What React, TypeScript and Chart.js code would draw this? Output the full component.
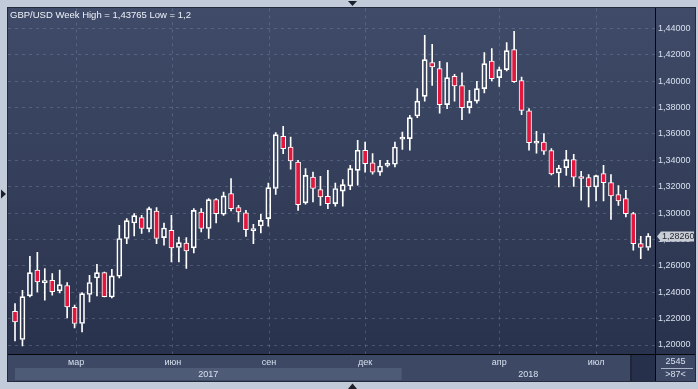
import React, { useEffect, useRef } from 'react';
import { Chart, registerables } from 'chart.js';

Chart.register(...registerables);

// Weekly GBP/USD candles
const opens = [
  1.2256, 1.2042, 1.2372, 1.2567, 1.2473, 1.2491, 1.2410, 1.2451, 1.2286, 1.2163,
  1.2383, 1.2508, 1.2549, 1.2364, 1.2521, 1.2807, 1.2925, 1.2966, 1.2880, 1.3016,
  1.2814, 1.2870, 1.2739, 1.2773, 1.2736, 1.3008, 1.2883, 1.3102, 1.2991, 1.3148,
  1.3042, 1.3001, 1.2867, 1.2902, 1.2958, 1.3186, 1.3582, 1.3501, 1.3387, 1.3077,
  1.3273, 1.3178, 1.3127, 1.3072, 1.3167, 1.3205, 1.3324, 1.3476, 1.3380, 1.3311,
  1.3362, 1.3370, 1.3560, 1.3564, 1.3736, 1.3885, 1.4140, 1.4095, 1.3822, 1.4036,
  1.3966, 1.3799, 1.3849, 1.3943, 1.4152, 1.4027, 1.4087, 1.4239, 1.4004, 1.3775,
  1.3530, 1.3539, 1.3473, 1.3304, 1.3345, 1.3405, 1.3270, 1.3269, 1.3198, 1.3299,
  1.3231, 1.3140, 1.3110, 1.2996, 1.2769, 1.2739,
];
const highs = [
  1.2314, 1.2415, 1.2673, 1.2703, 1.2580, 1.2542, 1.2567, 1.2474, 1.2302, 1.2398,
  1.2529, 1.2612, 1.2552, 1.2574, 1.2908, 1.2958, 1.2996, 1.2983, 1.3046, 1.3042,
  1.2925, 1.2983, 1.2819, 1.2814, 1.3034, 1.3034, 1.3110, 1.3110, 1.3160, 1.3261,
  1.3059, 1.3021, 1.2915, 1.2991, 1.3228, 1.3610, 1.3658, 1.3577, 1.3400, 1.3337,
  1.3311, 1.3279, 1.3324, 1.3228, 1.3254, 1.3362, 1.3552, 1.3539, 1.3451, 1.3400,
  1.3400, 1.3539, 1.3614, 1.3741, 1.3943, 1.4347, 1.4279, 1.4150, 1.4140, 1.4052,
  1.4064, 1.3930, 1.3998, 1.4216, 1.4246, 1.4107, 1.4292, 1.4377, 1.4031, 1.3792,
  1.3620, 1.3602, 1.3489, 1.3362, 1.3476, 1.3445, 1.3317, 1.3292, 1.3288, 1.3362,
  1.3292, 1.3208, 1.3173, 1.3006, 1.2824, 1.2845,
];
const lows = [
  1.2031, 1.1993, 1.2365, 1.2402, 1.2339, 1.2377, 1.2395, 1.2205, 1.2130, 1.2099,
  1.2327, 1.2372, 1.2364, 1.2357, 1.2508, 1.2769, 1.2827, 1.2845, 1.2857, 1.2769,
  1.2756, 1.2630, 1.2630, 1.2580, 1.2698, 1.2857, 1.2807, 1.2925, 1.2983, 1.3016,
  1.2933, 1.2824, 1.2769, 1.2849, 1.2900, 1.3142, 1.3451, 1.3332, 1.3021, 1.3067,
  1.3084, 1.3059, 1.3034, 1.3052, 1.3052, 1.3178, 1.3211, 1.3311, 1.3294, 1.3286,
  1.3349, 1.3349, 1.3482, 1.3476, 1.3723, 1.3849, 1.3968, 1.3758, 1.3792, 1.3849,
  1.3708, 1.3758, 1.3834, 1.3910, 1.4001, 1.3961, 1.4077, 1.3990, 1.3746, 1.3476,
  1.3455, 1.3445, 1.3289, 1.3198, 1.3286, 1.3203, 1.3097, 1.3046, 1.3092, 1.3092,
  1.2951, 1.3059, 1.2970, 1.2718, 1.2655, 1.2718,
];
const closes = [
  1.2175, 1.2367, 1.2549, 1.2478, 1.2486, 1.2405, 1.2458, 1.2289, 1.2163, 1.2390,
  1.2474, 1.2549, 1.2367, 1.2524, 1.2807, 1.2943, 1.2981, 1.2883, 1.3034, 1.2807,
  1.2887, 1.2736, 1.2776, 1.2713, 1.3021, 1.2883, 1.3102, 1.2996, 1.3130, 1.3034,
  1.3008, 1.2875, 1.2883, 1.2945, 1.3193, 1.3595, 1.3489, 1.3395, 1.3064, 1.3286,
  1.3186, 1.3122, 1.3072, 1.3186, 1.3216, 1.3337, 1.3476, 1.3375, 1.3311, 1.3357,
  1.3370, 1.3501, 1.3568, 1.3723, 1.3849, 1.4163, 1.4107, 1.3822, 1.4027, 1.3963,
  1.3799, 1.3847, 1.3943, 1.4133, 1.4019, 1.4087, 1.4231, 1.3996, 1.3779, 1.3534,
  1.3540, 1.3470, 1.3296, 1.3342, 1.3405, 1.3273, 1.3262, 1.3198, 1.3284, 1.3231,
  1.3130, 1.3092, 1.2996, 1.2769, 1.2739, 1.2826,
];

const priceTicks = [1.2, 1.22, 1.24, 1.26, 1.28, 1.3, 1.32, 1.34, 1.36, 1.38, 1.4, 1.42, 1.44];
const monthTickPositions = [8.2, 21.2, 34.1, 47.0, 65.0, 78.0];
const monthTickLabels = ['мар', 'июн', 'сен', 'дек', 'апр', 'июл'];
const yearLabels = ['2017', '2018'];
const yearStarts = [0, 51.9];
const titleText = 'GBP/USD Week High = 1,43765 Low = 1,2';
const cornerTop = '2545';
const cornerBottom = '>87<';

const W = 698;
const H = 389;
const FAMILY = '"Liberation Sans", Arial, sans-serif';
const RED = '#e3173e';
const LABEL = '#d6e0ee';

const fmt = (v: number) => v.toFixed(5).replace('.', ',');

export default function App() {
  const ref = useRef<HTMLCanvasElement>(null);

  useEffect(() => {
    const canvas = ref.current;
    if (!canvas) return;
    const idx = opens.map((_, i) => i);
    const bodyData = idx.map((i) => ({ x: i, y: [Math.min(opens[i], closes[i]), Math.max(opens[i], closes[i])] }));
    const upperData = idx.map((i) => ({ x: i, y: [Math.max(opens[i], closes[i]), highs[i]] }));
    const lowerData = idx.map((i) => ({ x: i, y: [lows[i], Math.min(opens[i], closes[i])] }));
    const bodyFill = idx.map((i) => (closes[i] < opens[i] ? RED : 'rgba(0,0,0,0)'));

    const panelR = 695;
    const panelB = 381;

    const framePlugin = {
      id: 'frame',
      beforeDraw(chart: any) {
        const { ctx, chartArea: a, scales } = chart;
        const xs = scales.x;
        ctx.save();
        ctx.fillStyle = '#c1cbd9';
        ctx.fillRect(0, 0, W, H);
        // bottom rows
        ctx.fillStyle = '#3c4864';
        ctx.fillRect(8, a.bottom, panelR - 8, panelB - a.bottom);
        // plot + axis gradient
        const g = ctx.createLinearGradient(0, a.top, 0, a.bottom);
        g.addColorStop(0, '#3f4b68');
        g.addColorStop(1, '#29324c');
        ctx.fillStyle = g;
        ctx.fillRect(8, 8, panelR - 8, a.bottom - 8);
        // year bands
        for (let k = 0; k < yearLabels.length; k++) {
          const x0 = xs.getPixelForValue(yearStarts[k]);
          const x1 = k + 1 < yearStarts.length ? xs.getPixelForValue(yearStarts[k + 1]) : a.right;
          if (k % 2 === 0) {
            ctx.fillStyle = '#4e5b77';
            ctx.fillRect(x0, 368, x1 - x0, 12);
          }
        }
        // dark box right of time axis
        ctx.fillStyle = '#27304a';
        ctx.fillRect(a.right - 23, a.bottom + 1, 23, panelB - a.bottom - 1);
        ctx.fillStyle = '#1f2637';
        ctx.fillRect(a.right - 25, a.bottom + 1, 2, panelB - a.bottom - 1);
        // panel border
        ctx.strokeStyle = '#222a3b';
        ctx.lineWidth = 1;
        ctx.strokeRect(7.5, 7.5, panelR - 7, panelB - 7);
        // frame triangles
        ctx.fillStyle = '#1a1f29';
        ctx.beginPath();
        ctx.moveTo(348, 1); ctx.lineTo(357, 1); ctx.lineTo(352.5, 6); ctx.closePath(); ctx.fill();
        ctx.beginPath();
        ctx.moveTo(348, 389); ctx.lineTo(357, 389); ctx.lineTo(352.5, 383.5); ctx.closePath(); ctx.fill();
        ctx.beginPath();
        ctx.moveTo(1, 189.5); ctx.lineTo(6, 194); ctx.lineTo(1, 198.5); ctx.closePath(); ctx.fill();
        ctx.restore();
      },
      afterDraw(chart: any) {
        const { ctx, chartArea: a, scales } = chart;
        const xs = scales.x;
        const ys = scales.y;
        ctx.save();
        // black separators
        ctx.strokeStyle = '#05070b';
        ctx.lineWidth = 1;
        ctx.beginPath();
        ctx.moveTo(a.right + 0.5, 8);
        ctx.lineTo(a.right + 0.5, panelB);
        ctx.moveTo(8, a.bottom + 0.5);
        ctx.lineTo(panelR, a.bottom + 0.5);
        ctx.stroke();
        // year labels
        ctx.font = `9px ${FAMILY}`;
        ctx.fillStyle = LABEL;
        ctx.textAlign = 'center';
        ctx.textBaseline = 'middle';
        for (let k = 0; k < yearLabels.length; k++) {
          const x0 = xs.getPixelForValue(yearStarts[k]);
          const x1 = k + 1 < yearStarts.length ? xs.getPixelForValue(yearStarts[k + 1]) : a.right;
          ctx.fillText(yearLabels[k], (x0 + x1) / 2, 374.5);
        }
        // corner box
        const cx = (a.right + panelR) / 2 + 0.5;
        ctx.fillText(cornerTop, cx, 362);
        ctx.fillText(cornerBottom, cx, 375);
        ctx.fillStyle = '#aab6c8';
        ctx.fillRect(a.right + 6, 368, 32, 1);
        // title
        ctx.font = `9.5px ${FAMILY}`;
        ctx.fillStyle = '#eef2f8';
        ctx.textAlign = 'left';
        ctx.fillText(titleText, 10, 15);
        // last price marker
        const last = closes[closes.length - 1];
        const py = Math.round(ys.getPixelForValue(last)) + 0.5;
        ctx.fillStyle = '#c9ced6';
        ctx.beginPath();
        ctx.moveTo(a.right + 2, py);
        ctx.lineTo(a.right + 6, py - 5);
        ctx.lineTo(a.right + 39, py - 5);
        ctx.lineTo(a.right + 39, py + 5);
        ctx.lineTo(a.right + 6, py + 5);
        ctx.closePath();
        ctx.fill();
        ctx.fillStyle = '#1d222b';
        ctx.font = `9px ${FAMILY}`;
        ctx.fillText(fmt(last), a.right + 7, py);
        ctx.restore();
      },
    };

    const chart = new Chart(canvas, {
      type: 'bar',
      data: {
        datasets: [
          {
            data: bodyData as any,
            backgroundColor: bodyFill,
            borderColor: '#ffffff',
            borderWidth: 1,
            borderSkipped: false,
            barThickness: 5,
            minBarLength: 2,
            grouped: false,
            order: 0,
          } as any,
          {
            data: upperData as any,
            backgroundColor: '#ffffff',
            borderWidth: 0,
            barThickness: 1,
            grouped: false,
            order: 1,
          } as any,
          {
            data: lowerData as any,
            backgroundColor: '#ffffff',
            borderWidth: 0,
            barThickness: 1,
            grouped: false,
            order: 1,
          } as any,
        ],
      },
      options: {
        responsive: false,
        maintainAspectRatio: false,
        animation: false,
        devicePixelRatio: 1,
        events: [],
        layout: { padding: { left: 8, top: 8, right: 3, bottom: 21 } },
        plugins: { legend: { display: false }, tooltip: { enabled: false } },
        scales: {
          x: {
            type: 'linear',
            offset: false,
            min: -0.94,
            max: 85.91,
            afterBuildTicks: (s: any) => {
              s.ticks = monthTickPositions.map((v) => ({ value: v }));
            },
            afterFit: (s: any) => {
              s.height = 14;
            },
            grid: { color: 'rgba(140,155,185,0.33)', drawTicks: false, offset: false },
            border: { display: false, dash: [3, 4] },
            ticks: {
              autoSkip: false,
              maxRotation: 0,
              padding: 3,
              color: LABEL,
              font: { family: FAMILY, size: 9 },
              callback: (_v: any, i: number) => monthTickLabels[i],
            },
          },
          y: {
            type: 'linear',
            position: 'right',
            min: 1.19318,
            max: 1.45515,
            afterBuildTicks: (s: any) => {
              s.ticks = priceTicks.map((v) => ({ value: v }));
            },
            afterFit: (s: any) => {
              s.width = 40;
            },
            grid: { color: 'rgba(140,155,185,0.33)', drawTicks: false },
            border: { display: false, dash: [3, 4] },
            ticks: {
              padding: 3,
              color: LABEL,
              font: { family: FAMILY, size: 9 },
              callback: (v: any) => fmt(Number(v)),
            },
          },
        },
      } as any,
      plugins: [framePlugin],
    });

    return () => chart.destroy();
  }, []);

  return (
    <div style={{ position: 'fixed', left: 0, top: 0, width: W, height: H }}>
      <canvas ref={ref} width={W} height={H} style={{ display: 'block', width: W, height: H }} />
    </div>
  );
}
